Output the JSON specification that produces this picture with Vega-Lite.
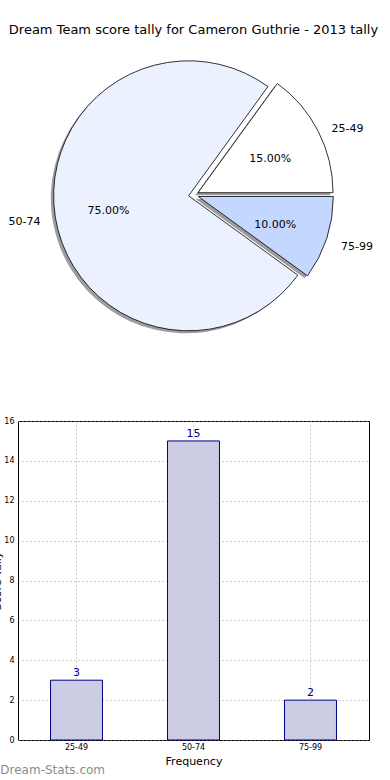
{
  "$schema": "https://vega.github.io/schema/vega-lite/v6.json",
  "background": "white",
  "autosize": {"type": "pad"},
  "padding": {"left": -9, "top": 24, "right": 0, "bottom": 0},
  "datasets": {
    "tally": [
      {"Range": "25-49", "Count": 3, "Share": 0.15},
      {"Range": "50-74", "Count": 15, "Share": 0.75},
      {"Range": "75-99", "Count": 2, "Share": 0.10}
    ]
  },
  "title": {"text": "Dream-Stats.com", "orient": "bottom", "anchor": "start", "fontSize": 12, "fontWeight": "normal", "color": "#8c8c8c", "offset": 0, "dx": 9, "dy": -2, "frame": "bounds"},
  "spacing": 81,
  "vconcat": [
    {
      "width": 351,
      "height": 280,
      "title": {"text": "Dream Team score tally for Cameron Guthrie - 2013 tally", "fontSize": 13, "fontWeight": "normal", "color": "black", "offset": 18, "anchor": "middle"},
      "data": {"name": "tally"},
      "transform": [
        {"stack": "Count", "groupby": [], "sort": [{"field": "Range", "order": "ascending"}], "as": ["s0", "s1"]}
      ],
      "layer": [
        {
          "transform": [{"filter": "datum.Range === '25-49'"}],
          "mark": {"type": "arc", "radius": 135, "fill": "#4d4d4d", "opacity": 0.55, "xOffset": 1.7, "yOffset": 0.2},
          "encoding": {
            "theta": {"field": "s0", "type": "quantitative", "scale": {"domain": [0, 20], "range": [1.5708, -4.7124]}},
            "theta2": {"field": "s1"}
          }
        },
        {
          "transform": [{"filter": "datum.Range === '50-74'"}],
          "mark": {"type": "arc", "radius": 135, "fill": "#4d4d4d", "opacity": 0.55, "xOffset": -7.7, "yOffset": 3.3},
          "encoding": {
            "theta": {"field": "s0", "type": "quantitative", "scale": {"domain": [0, 20], "range": [1.5708, -4.7124]}},
            "theta2": {"field": "s1"}
          }
        },
        {
          "transform": [{"filter": "datum.Range === '75-99'"}],
          "mark": {"type": "arc", "radius": 135, "fill": "#4d4d4d", "opacity": 0.55, "xOffset": 2.0, "yOffset": 4.0},
          "encoding": {
            "theta": {"field": "s0", "type": "quantitative", "scale": {"domain": [0, 20], "range": [1.5708, -4.7124]}},
            "theta2": {"field": "s1"}
          }
        },
        {
          "transform": [{"filter": "datum.Range === '25-49'"}],
          "mark": {"type": "arc", "radius": 135, "fill": "#ffffff", "stroke": "#000000", "strokeWidth": 0.8, "xOffset": 4.5, "yOffset": -2.3},
          "encoding": {
            "theta": {"field": "s0", "type": "quantitative", "scale": {"domain": [0, 20], "range": [1.5708, -4.7124]}},
            "theta2": {"field": "s1"}
          }
        },
        {
          "transform": [{"filter": "datum.Range === '50-74'"}],
          "mark": {"type": "arc", "radius": 135, "fill": "#ebf1fe", "stroke": "#000000", "strokeWidth": 0.8, "xOffset": -4.9, "yOffset": 0.8},
          "encoding": {
            "theta": {"field": "s0", "type": "quantitative", "scale": {"domain": [0, 20], "range": [1.5708, -4.7124]}},
            "theta2": {"field": "s1"}
          }
        },
        {
          "transform": [{"filter": "datum.Range === '75-99'"}],
          "mark": {"type": "arc", "radius": 135, "fill": "#c4d7fe", "stroke": "#000000", "strokeWidth": 0.8, "xOffset": 4.8, "yOffset": 1.5},
          "encoding": {
            "theta": {"field": "s0", "type": "quantitative", "scale": {"domain": [0, 20], "range": [1.5708, -4.7124]}},
            "theta2": {"field": "s1"}
          }
        },
        {
          "mark": {"type": "text", "radius": 86, "fontSize": 11, "color": "black", "align": "center", "baseline": "middle", "dy": 3},
          "encoding": {
            "theta": {"field": "Count", "type": "quantitative", "stack": true, "scale": {"domain": [0, 20], "range": [1.5708, -4.7124]}},
            "order": {"field": "Range", "type": "nominal"},
            "text": {"field": "Share", "type": "quantitative", "format": ".2%"}
          }
        },
        {
          "mark": {"type": "text", "radius": 155, "fontSize": 11, "color": "black", "align": "left", "baseline": "middle", "dy": 4},
          "encoding": {
            "theta": {"field": "Count", "type": "quantitative", "stack": true, "scale": {"domain": [0, 20], "range": [1.5708, -4.7124]}},
            "order": {"field": "Range", "type": "nominal"},
            "text": {"field": "Range", "type": "nominal"},
            "opacity": {"condition": {"test": "datum.Range === '50-74'", "value": 0}, "value": 1}
          }
        },
        {
          "mark": {"type": "text", "radius": 155, "fontSize": 11, "color": "black", "align": "right", "baseline": "middle", "dy": 3},
          "encoding": {
            "theta": {"field": "Count", "type": "quantitative", "stack": true, "scale": {"domain": [0, 20], "range": [1.5708, -4.7124]}},
            "order": {"field": "Range", "type": "nominal"},
            "text": {"field": "Range", "type": "nominal"},
            "opacity": {"condition": {"test": "datum.Range === '50-74'", "value": 1}, "value": 0}
          }
        }
      ]
    },
    {
      "width": 351,
      "height": 319,
      "view": {"stroke": "black", "strokeWidth": 1},
      "data": {"name": "tally"},
      "encoding": {
        "x": {
          "field": "Range", "type": "nominal",
          "scale": {"paddingInner": 0.556, "paddingOuter": 0.278},
          "axis": {"title": "Frequency", "labelAngle": 0, "grid": true, "bandPosition": 0.5, "labelFontSize": 8, "titleFontSize": 11, "titleFontWeight": "normal", "labelPadding": 3, "titlePadding": 4, "ticks": false, "domain": false}
        },
        "y": {
          "field": "Count", "type": "quantitative",
          "scale": {"domain": [0, 16], "nice": false},
          "axis": {"title": "Score Tally", "values": [0, 2, 4, 6, 8, 10, 12, 14, 16], "grid": true, "labelFontSize": 8, "titleFontSize": 11, "titleFontWeight": "normal", "labelPadding": 4, "titlePadding": 1, "ticks": false, "domain": false}
        }
      },
      "layer": [
        {"mark": {"type": "bar", "fill": "#cccce5", "stroke": "#000080", "strokeWidth": 1}},
        {
          "mark": {"type": "text", "color": "#000080", "fontSize": 11, "baseline": "bottom", "dy": -2},
          "encoding": {"text": {"field": "Count", "type": "quantitative"}}
        }
      ]
    }
  ],
  "config": {
    "font": "DejaVu Sans",
    "view": {"stroke": null},
    "axis": {"gridColor": "#9a9a9a", "gridDash": [1, 3], "gridWidth": 1, "gridOpacity": 1, "labelColor": "black", "titleColor": "black", "labelFont": "DejaVu Sans", "titleFont": "DejaVu Sans"},
    "title": {"font": "DejaVu Sans"}
  }
}
